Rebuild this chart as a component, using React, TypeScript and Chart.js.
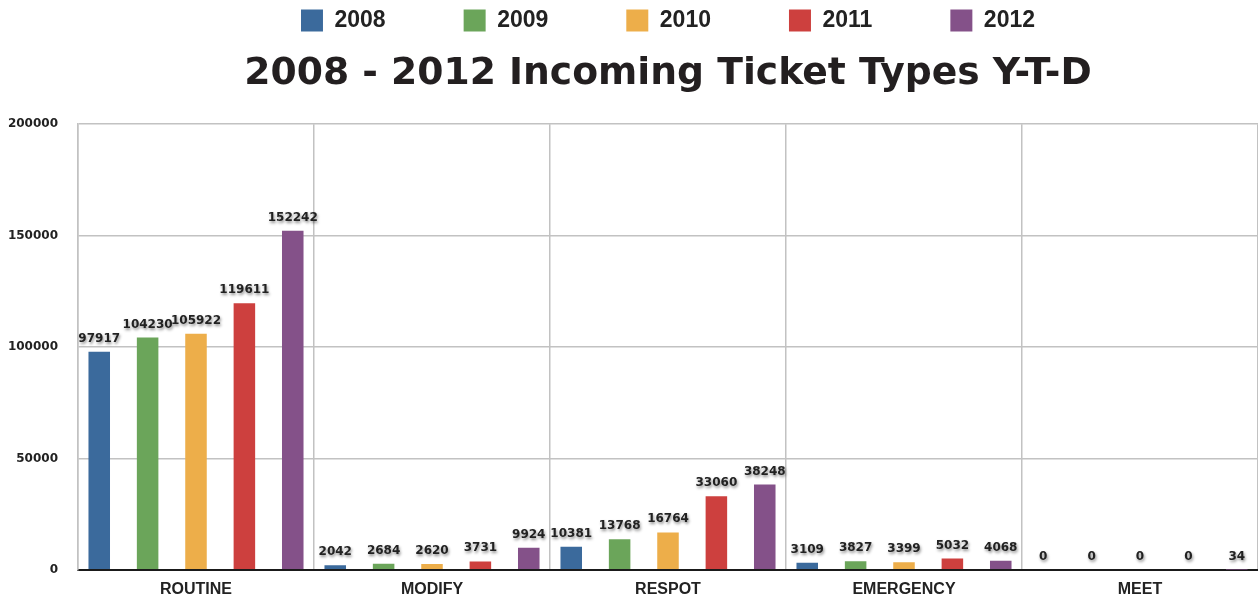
import React, { useEffect, useRef } from "react";
import { Chart, registerables } from "chart.js";

Chart.register(...registerables);

const categories = ["ROUTINE", "MODIFY", "RESPOT", "EMERGENCY", "MEET"];
const seriesNames = ["2008", "2009", "2010", "2011", "2012"];
const values2008 = [97917, 2042, 10381, 3109, 0];
const values2009 = [104230, 2684, 13768, 3827, 0];
const values2010 = [105922, 2620, 16764, 3399, 0];
const values2011 = [119611, 3731, 33060, 5032, 0];
const values2012 = [152242, 9924, 38248, 4068, 34];
const seriesColors = ["#3b6a9c", "#6ba55a", "#edae4a", "#cd403e", "#845189"];
const yTicks = [0, 50000, 100000, 150000, 200000];
const titleText = "2008 - 2012 Incoming Ticket Types Y-T-D";

const allValues = [values2008, values2009, values2010, values2011, values2012];

const valueLabelPlugin = {
  id: "valueLabels",
  afterDatasetsDraw(chart: any) {
    const ctx = chart.ctx;
    ctx.save();
    ctx.font = "bold 12px 'DejaVu Sans'";
    ctx.fillStyle = "#222222";
    ctx.textAlign = "center";
    ctx.textBaseline = "alphabetic";
    ctx.shadowColor = "rgba(0,0,0,0.45)";
    ctx.shadowBlur = 3;
    ctx.shadowOffsetX = 1;
    ctx.shadowOffsetY = 2;
    chart.data.datasets.forEach((ds: any, di: number) => {
      const meta = chart.getDatasetMeta(di);
      meta.data.forEach((el: any, i: number) => {
        ctx.fillText(String(ds.data[i]), el.x, el.y - 10);
      });
    });
    ctx.restore();
  },
};

export default function App() {
  const ref = useRef<HTMLCanvasElement | null>(null);
  useEffect(() => {
    if (!ref.current) return;
    const grid = "#c2c2c2";
    const chart = new Chart(ref.current, {
      type: "bar",
      data: {
        labels: categories,
        datasets: seriesNames.map((name, i) => ({
          label: name,
          data: allValues[i],
          backgroundColor: seriesColors[i],
          borderWidth: 0,
          categoryPercentage: 1.025,
          barPercentage: 0.445,
        })),
      },
      options: {
        responsive: false,
        animation: false,
        layout: { padding: { top: -69, left: 0, right: 0, bottom: -9 } },
        plugins: {
          legend: {
            position: "top",
            fullSize: false,
            weight: 3000,
            labels: {
              boxWidth: 22,
              boxHeight: 22,
              padding: 78,
              color: "#222222",
              font: { family: "'Liberation Sans'", weight: "bold", size: 23 },
            },
          },
          title: {
            display: true,
            text: titleText,
            fullSize: false,
            color: "#231f20",
            font: { family: "'DejaVu Sans'", weight: "bold", size: 37.7, lineHeight: 1.2 },
            padding: { top: 10, bottom: 27 },
          },
          tooltip: { enabled: false },
        },
        scales: {
          x: {
            grid: { color: grid, lineWidth: 1.5, drawTicks: false, offset: true },
            border: { color: "#1a1a1a", width: 2 },
            ticks: {
              color: "#222222",
              padding: 10,
              font: { family: "'Liberation Sans'", weight: "bold", size: 16 },
            },
          },
          y: {
            min: 0,
            max: 200000,
            afterBuildTicks: (scale: any) => {
              scale.ticks = yTicks.map((v) => ({ value: v }));
            },
            afterFit: (scale: any) => {
              scale.width = 78;
            },
            grid: { color: grid, lineWidth: 1.5, drawTicks: false },
            border: { color: grid, width: 1.5 },
            ticks: {
              color: "#222222",
              padding: 20,
              callback: (v: any) => String(v),
              font: { family: "'DejaVu Sans'", weight: "bold", size: 12 },
            },
          },
        },
      },
      plugins: [valueLabelPlugin],
    });
    return () => chart.destroy();
  }, []);
  return (
    <div style={{ position: "absolute", left: 0, top: 0, width: 1258, height: 600, background: "#ffffff" }}>
      <canvas ref={ref} width={1258} height={600} />
    </div>
  );
}
